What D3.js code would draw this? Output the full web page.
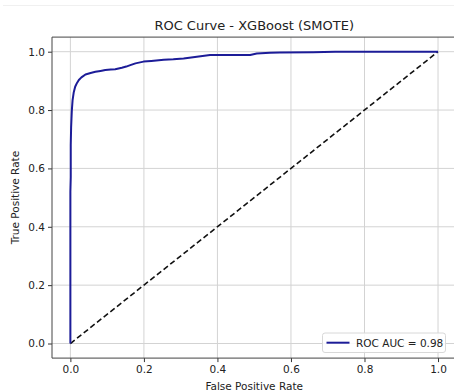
<!DOCTYPE html>
<html><head><meta charset="utf-8">
<script src="https://cdn.jsdelivr.net/npm/d3@7"></script>
<style>body{margin:0;background:#fff;}svg{display:block;font-family:"DejaVu Sans",sans-serif;}</style>
</head><body>
<svg id="c" width="454" height="392"></svg>
<script>
const fpr = [0, 0, 0.001, 0.001, 0.002, 0.003, 0.004, 0.006, 0.009, 0.013, 0.018, 0.023, 0.030, 0.041, 0.055, 0.068, 0.082, 0.095, 0.110, 0.122, 0.140, 0.152, 0.163, 0.177, 0.199, 0.220, 0.254, 0.280, 0.308, 0.344, 0.380, 0.430, 0.489, 0.507, 0.543, 0.570, 0.660, 0.720, 1.0];
const tpr = [0, 0.52, 0.57, 0.68, 0.74, 0.77, 0.80, 0.834, 0.86, 0.88, 0.893, 0.903, 0.912, 0.922, 0.927, 0.931, 0.934, 0.937, 0.939, 0.940, 0.945, 0.949, 0.954, 0.960, 0.966, 0.968, 0.972, 0.974, 0.977, 0.983, 0.989, 0.989, 0.989, 0.994, 0.996, 0.997, 0.998, 1.0, 1.0];
const diagX = [0, 1];
const diagY = [0, 1];
const ticks = [0, 0.2, 0.4, 0.6, 0.8, 1.0];
const tickLabels = ["0.0", "0.2", "0.4", "0.6", "0.8", "1.0"];
const title = "ROC Curve - XGBoost (SMOTE)";
const xLabel = "False Positive Rate";
const yLabel = "True Positive Rate";
const legendLabel = "ROC AUC = 0.98";

const svg = d3.select("#c");
const L = 52, R = 456.4, T = 37.1, B = 358.1;
const x = d3.scaleLinear().domain([-0.05, 1.05]).range([L, R]);
const y = d3.scaleLinear().domain([-0.05, 1.05]).range([B, T]);

// faint top separator
svg.append("line").attr("x1", 3).attr("x2", 454).attr("y1", 5.5).attr("y2", 5.5)
  .attr("stroke", "#f0f0f0").attr("stroke-width", 1);

// grid
const g = svg.append("g");
g.selectAll(".gx").data(ticks).enter().append("line")
  .attr("x1", d => x(d)).attr("x2", d => x(d)).attr("y1", T).attr("y2", B)
  .attr("stroke", "#d3d3d3").attr("stroke-width", 1);
g.selectAll(".gy").data(ticks).enter().append("line")
  .attr("y1", d => y(d)).attr("y2", d => y(d)).attr("x1", L).attr("x2", R)
  .attr("stroke", "#d3d3d3").attr("stroke-width", 1);

// diagonal
svg.append("path")
  .attr("d", d3.line().x(d => x(d[0])).y(d => y(d[1]))(diagX.map((v, i) => [v, diagY[i]])))
  .attr("fill", "none").attr("stroke", "#111").attr("stroke-width", 1.6)
  .attr("stroke-dasharray", "5.5,3");

// ROC
svg.append("path")
  .attr("d", d3.line().x(d => x(d[0])).y(d => y(d[1]))(fpr.map((v, i) => [v, tpr[i]])))
  .attr("fill", "none").attr("stroke", "#1c1c98").attr("stroke-width", 2)
  .attr("stroke-linejoin", "round");

// axes
const xAxis = d3.axisBottom(x).tickValues(ticks).tickFormat((d, i) => tickLabels[i]).tickSize(4).tickPadding(3);
const yAxis = d3.axisLeft(y).tickValues(ticks).tickFormat((d, i) => tickLabels[i]).tickSize(4).tickPadding(3);
const gx = svg.append("g").attr("transform", `translate(0,${B})`).call(xAxis);
const gy = svg.append("g").attr("transform", `translate(${L},0)`).call(yAxis);
[gx, gy].forEach(a => {
  a.select(".domain").remove();
  a.selectAll("line").attr("stroke", "#333");
  a.selectAll("text").attr("font-size", "10.5px").attr("fill", "#222").attr("font-family", "DejaVu Sans");
});

// spines
svg.append("path").attr("d", `M${L},${T}H${R}M${L},${T}V${B}H${R}`)
  .attr("fill", "none").attr("stroke", "#444").attr("stroke-width", 1);

// title and labels
svg.append("text").attr("x", (L + R) / 2).attr("y", 30).attr("text-anchor", "middle")
  .attr("font-size", "13px").attr("fill", "#222").text(title);
svg.append("text").attr("x", (L + R) / 2).attr("y", 390).attr("text-anchor", "middle")
  .attr("font-size", "10.5px").attr("fill", "#222").text(xLabel);
svg.append("text").attr("transform", `translate(19,${(T + B) / 2}) rotate(-90)`).attr("text-anchor", "middle")
  .attr("font-size", "10.5px").attr("fill", "#222").text(yLabel);

// legend
const lg = svg.append("g");
lg.append("rect").attr("x", 322.5).attr("y", 333).attr("width", 123).attr("height", 19.5).attr("rx", 2.5)
  .attr("fill", "#fff").attr("fill-opacity", 0.85).attr("stroke", "#d8d8d8").attr("stroke-width", 1);
lg.append("line").attr("x1", 326.5).attr("x2", 349.5).attr("y1", 342.7).attr("y2", 342.7)
  .attr("stroke", "#1c1c98").attr("stroke-width", 2);
lg.append("text").attr("x", 356).attr("y", 346.5).attr("font-size", "10.5px").attr("fill", "#222").text(legendLabel);
</script>
</body></html>
